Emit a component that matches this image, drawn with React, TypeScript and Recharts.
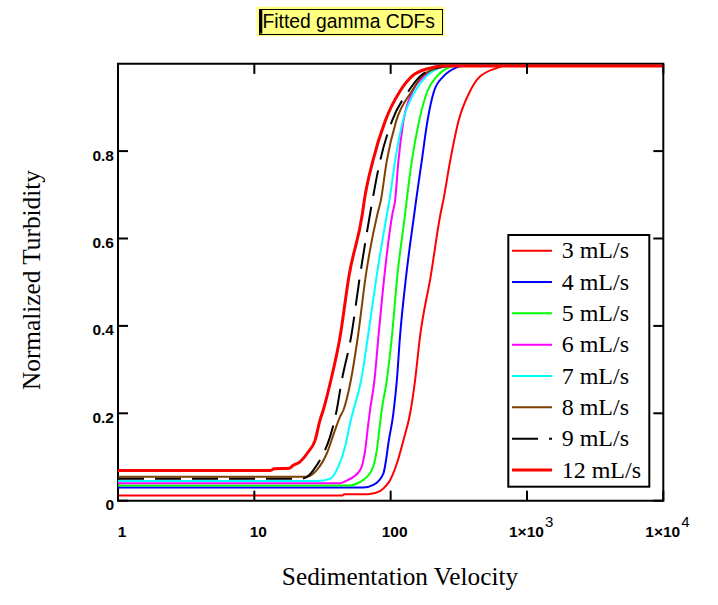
import React from 'react';
import { LineChart, Line, XAxis, YAxis, ReferenceArea } from 'recharts';

const xTicks = [1, 10, 100, 1000, 10000];
const yTicks = [0, 0.2, 0.4, 0.6, 0.8];

const seriesNames = ['3 mL/s', '4 mL/s', '5 mL/s', '6 mL/s', '7 mL/s', '8 mL/s', '9 mL/s', '12 mL/s'];

const flow3: [number, number][] = [[1,0.012],[44.5,0.012],[45.5,0.015],[68.6,0.015],[83.6,0.022],[93.6,0.036],[99,0.047],[111,0.085],[124,0.138],[139,0.2],[151,0.275],[164,0.374],[197,0.515],[232,0.656],[243,0.686],[273,0.777],[314,0.868],[382,0.937],[440,0.967],[600,0.99],[680,0.995],[10000,0.995]];
const flow4: [number, number][] = [[1,0.03],[63,0.03],[74.7,0.036],[88.4,0.062],[92.5,0.093],[96.2,0.131],[104.7,0.2],[111,0.275],[117,0.374],[130,0.515],[149,0.656],[153.5,0.686],[169,0.777],[186,0.868],[208,0.937],[244,0.971],[297,0.99],[330,0.995],[10000,0.995]];
const flow5: [number, number][] = [[1,0.035],[50.4,0.035],[59.7,0.043],[72.7,0.07],[79,0.114],[83.6,0.177],[86,0.207],[93.6,0.275],[102,0.374],[112,0.515],[127.6,0.656],[131,0.686],[143,0.777],[161.5,0.868],[186,0.937],[218,0.971],[260,0.99],[300,0.995],[10000,0.995]];
const flow6: [number, number][] = [[1,0.04],[42.5,0.04],[47.6,0.046],[59.7,0.07],[64.9,0.114],[68.6,0.177],[70.6,0.207],[76,0.275],[81.3,0.374],[90,0.515],[103,0.656],[107.7,0.686],[114,0.777],[124,0.868],[145,0.937],[175,0.971],[225,0.99],[270,0.995],[10000,0.995]];
const flow7: [number, number][] = [[1,0.045],[28.7,0.045],[35.9,0.05],[41.3,0.078],[46.3,0.123],[50.4,0.177],[53.3,0.207],[60.7,0.275],[68,0.374],[79,0.515],[94,0.656],[97.8,0.686],[107.7,0.777],[122.7,0.868],[151,0.937],[182,0.971],[225,0.99],[270,0.995],[10000,0.995]];
const flow8: [number, number][] = [[1,0.055],[24.2,0.055],[28.7,0.07],[34,0.108],[39,0.161],[42.5,0.192],[45,0.207],[51,0.275],[57.4,0.374],[65.7,0.515],[80,0.656],[84.6,0.686],[93.6,0.777],[109.6,0.868],[143,0.937],[169,0.971],[220,0.99],[260,0.995],[10000,0.995]];
const flow9: [number, number][] = [[1,0.05],[22,0.05],[24.5,0.055],[27.1,0.07],[31.2,0.1],[35.9,0.146],[40.2,0.207],[43.8,0.275],[51.2,0.374],[59.6,0.515],[70.6,0.656],[73.4,0.686],[83.6,0.777],[102,0.868],[135,0.937],[164,0.971],[215,0.99],[260,0.995],[10000,0.995]];
const flow12: [number, number][] = [[1,0.069],[13,0.069],[14,0.073],[18,0.074],[19.3,0.081],[21.6,0.089],[24.9,0.112],[27.9,0.138],[30.3,0.184],[32,0.207],[36.4,0.275],[42.5,0.374],[49.5,0.515],[62,0.656],[64,0.686],[74,0.777],[91,0.868],[117,0.937],[143,0.971],[194,0.99],[240,0.995],[10000,0.995]];

const seriesValues = [flow3, flow4, flow5, flow6, flow7, flow8, flow9, flow12];

// styles
const seriesColors = ['#FF0000', '#0000FF', '#00FF00', '#FF00FF', '#00FFFF', '#804000', '#000000', '#FF0000'];
const seriesWidths = [2, 2, 2, 2, 2, 2, 2, 3];
const seriesDash = [undefined, undefined, undefined, undefined, undefined, undefined, '26 11', undefined];

const PLOT_W = 545.3;
const PLOT_H = 436.8;
const TICK_FONT = '"Liberation Sans", Arial, sans-serif';
const SERIF = '"Liberation Serif", "Times New Roman", serif';

const renderXTick = (props: any) => {
  const { x, y, payload } = props;
  const v = payload.value as number;
  const exp = Math.round(Math.log10(v));
  return (
    <g>
      <line x1={x} y1={y} x2={x} y2={y - 10} stroke="#000" strokeWidth={2} />
      <line x1={x} y1={y - PLOT_H} x2={x} y2={y - PLOT_H + 10} stroke="#000" strokeWidth={2} />
      {v < 1000 ? (
        <text x={x + 4} y={y + 36} textAnchor="middle" fontFamily={TICK_FONT} fontWeight="bold" fontSize={15.5} fill="#000">
          {String(v)}
        </text>
      ) : (
        <text x={x - 18} y={y + 36} textAnchor="start" fontFamily={TICK_FONT} fontWeight="bold" fontSize={15.5} fill="#000">
          1×10
          <tspan dx={1} dy={-10} fontSize={15} fontWeight="normal">{String(exp)}</tspan>
        </text>
      )}
    </g>
  );
};

const renderYTick = (props: any) => {
  const { x, y, payload } = props;
  const v = payload.value as number;
  return (
    <g>
      <line x1={x} y1={y} x2={x + 10} y2={y} stroke="#000" strokeWidth={2} />
      <line x1={x + PLOT_W} y1={y} x2={x + PLOT_W - 10} y2={y} stroke="#000" strokeWidth={2} />
      <text x={x - 4} y={y + 9.5} textAnchor="end" fontFamily={TICK_FONT} fontWeight="bold" fontSize={15.5} fill="#000">
        {v === 0 ? '0' : v.toFixed(1)}
      </text>
    </g>
  );
};

export default function App() {
  return (
    <div style={{ position: 'absolute', left: 0, top: 0, width: 718, height: 605, background: '#fff' }}>
      <LineChart width={718} height={605} margin={{ top: 63.7, right: 54.7, bottom: 103.3, left: 117 }}>
        <XAxis
          dataKey="x"
          type="number"
          scale="log"
          domain={[1, 10000]}
          ticks={xTicks}
          interval={0}
          height={1}
          tickSize={0}
          tickMargin={0}
          axisLine={false}
          tickLine={false}
          tick={renderXTick}
          allowDataOverflow
        />
        <YAxis
          type="number"
          domain={[0, 1]}
          ticks={yTicks}
          interval={0}
          width={1}
          tickSize={0}
          tickMargin={0}
          axisLine={false}
          tickLine={false}
          tick={renderYTick}
        />
        <ReferenceArea x1={1} x2={10000} y1={0} y2={1} fill="none" stroke="#000" strokeWidth={2} ifOverflow="visible" />
        {seriesValues.map((pts, i) => (
          <Line
            key={seriesNames[i]}
            name={seriesNames[i]}
            data={pts.map(([x, y]) => ({ x, y }))}
            dataKey="y"
            type="monotone"
            stroke={seriesColors[i]}
            strokeWidth={seriesWidths[i]}
            strokeDasharray={seriesDash[i]}
            dot={false}
            activeDot={false}
            isAnimationActive={false}
          />
        ))}
      </LineChart>
      <svg width={718} height={605} style={{ position: 'absolute', left: 0, top: 0, pointerEvents: 'none' }}>
        <rect x={256.5} y={6.7} width={188} height={29.5} fill="#FFFF80" />
        <rect x={259.5} y={9.5} width={183} height={25} fill="none" stroke="#000" strokeWidth={1} />
        <rect x={259.5} y={10} width={2.8} height={23.5} fill="#000" />
        <text x={262.5} y={27.8} fontFamily={TICK_FONT} fontSize={19.3} fill="#000">Fitted gamma CDFs</text>

        <text x={400} y={585} textAnchor="middle" fontFamily={SERIF} fontSize={25.3} fill="#000">Sedimentation Velocity</text>
        <text x={40} y={280} transform="rotate(-90 40 280)" textAnchor="middle" fontFamily={SERIF} fontSize={25.3} fill="#000">Normalized Turbidity</text>

        <rect x={508.3} y={235} width={141} height={251.7} fill="#fff" stroke="#000" strokeWidth={2} />
        {seriesNames.map((name, i) => {
          const cy = 250.7 + i * 31.33;
          return (
            <g key={name}>
              <line x1={512} x2={552} y1={cy} y2={cy} stroke={seriesColors[i]} strokeWidth={seriesWidths[i]} strokeDasharray={seriesDash[i]} />
              <text x={561.7} y={cy + 7.6} fontFamily={SERIF} fontSize={24} fill="#000">{name}</text>
            </g>
          );
        })}
      </svg>
    </div>
  );
}
